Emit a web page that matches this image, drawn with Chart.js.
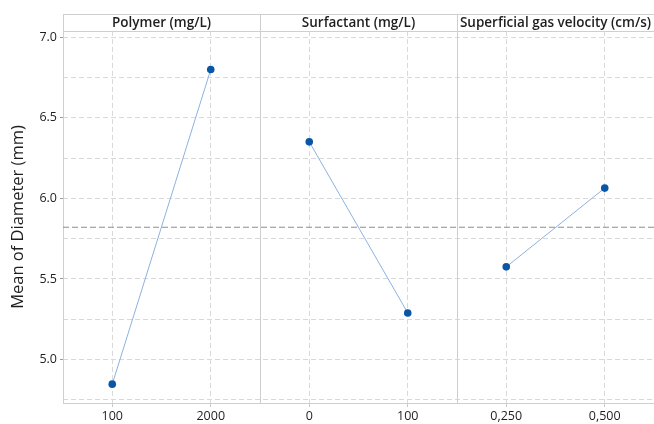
<!DOCTYPE html>
<html>
<head>
<meta charset="utf-8">
<script src="https://cdn.jsdelivr.net/npm/chart.js@4/dist/chart.umd.min.js"></script>
<style>
  html, body { margin: 0; padding: 0; background: #ffffff; overflow: hidden; }
  canvas { display: block; }
</style>
</head>
<body>
<canvas id="mainEffects" width="654" height="424"></canvas>
<script>
const factorNames = ["Polymer (mg/L)", "Surfactant (mg/L)", "Superficial gas velocity (cm/s)"];
const levelLabels = [["100", "2000"], ["0", "100"], ["0,250", "0,500"]];
const levelMeans = [[4.847, 6.800], [6.351, 5.289], [5.575, 6.064]];
const yTickValues = [4.75, 5.0, 5.25, 5.5, 5.75, 6.0, 6.25, 6.5, 6.75, 7.0];

const FONT = "\"Open Sans\", \"Noto Sans\", Arial, sans-serif";
const GRID_COLOR = "#d9d9d9";
const FRAME_COLOR = "#cfcfcf";
const POINT_COLOR = "#0a56a6";
const LINE_COLOR = "#8cb2e0";

Chart.defaults.font.family = FONT;

// each factor sits in its own panel of width 1 on the x scale
const levelPos = (f, l) => f + 0.25 + 0.5 * l;
const xTickPositions = [];
const xTickText = {};
levelLabels.forEach((labels, f) => labels.forEach((lab, l) => {
  xTickPositions.push(levelPos(f, l));
  xTickText[levelPos(f, l).toFixed(2)] = lab;
}));

const allMeans = levelMeans.flat();
const grandMean = allMeans.reduce((a, b) => a + b, 0) / allMeans.length;

const factorDatasets = levelMeans.map((means, f) => ({
  label: factorNames[f],
  data: means.map((v, l) => ({ x: levelPos(f, l), y: v })),
  showLine: true,
  borderColor: LINE_COLOR,
  borderWidth: 1,
  pointRadius: 3.8,
  pointBackgroundColor: POINT_COLOR,
  pointBorderColor: POINT_COLOR,
  pointBorderWidth: 0,
  order: 1
}));

const meanDataset = {
  label: "Mean",
  data: [{ x: 0, y: grandMean }, { x: factorNames.length, y: grandMean }],
  showLine: true,
  borderColor: "#8f8f8f",
  borderWidth: 1.2,
  borderDash: [6, 3],
  pointRadius: 0,
  order: 2
};

const panelPlugin = {
  id: "panels",
  beforeDatasetsDraw(chart) {
    const { ctx, chartArea, scales } = chart;
    const top = chartArea.top - 17;
    ctx.save();
    ctx.strokeStyle = FRAME_COLOR;
    ctx.lineWidth = 1;
    ctx.beginPath();
    // header strip
    ctx.moveTo(chartArea.left, top + 0.5);
    ctx.lineTo(chartArea.right, top + 0.5);
    ctx.moveTo(chartArea.left, chartArea.top + 0.5);
    ctx.lineTo(chartArea.right, chartArea.top + 0.5);
    ctx.moveTo(chartArea.left + 0.5, top);
    ctx.lineTo(chartArea.left + 0.5, chartArea.bottom);
    for (let f = 1; f < factorNames.length; f++) {
      const x = Math.round(scales.x.getPixelForValue(f)) + 0.5;
      ctx.moveTo(x, top);
      ctx.lineTo(x, chartArea.bottom);
    }
    ctx.stroke();
    ctx.fillStyle = "#1e1e1e";
    ctx.font = "600 13.5px " + FONT;
    ctx.textAlign = "center";
    ctx.textBaseline = "middle";
    factorNames.forEach((name, f) => {
      const cx = scales.x.getPixelForValue(f + 0.5);
      ctx.fillText(name, cx, top + 9);
    });
    ctx.restore();
  }
};

new Chart(document.getElementById("mainEffects"), {
  type: "scatter",
  data: { datasets: [...factorDatasets, meanDataset] },
  options: {
    responsive: false,
    animation: false,
    devicePixelRatio: 1,
    layout: { autoPadding: false, padding: { top: 31, right: 0, left: 0, bottom: 0 } },
    plugins: {
      legend: { display: false },
      tooltip: { enabled: false }
    },
    scales: {
      x: {
        type: "linear",
        min: 0,
        max: factorNames.length,
        afterBuildTicks: (scale) => {
          scale.ticks = xTickPositions.map((v) => ({ value: v }));
        },
        afterFit: (scale) => {
          scale.height = 21;
          scale.paddingLeft = 0;
          scale.paddingRight = 0;
        },
        ticks: {
          autoSkip: false,
          maxRotation: 0,
          padding: 2,
          color: "#1e1e1e",
          font: { size: 12.5 },
          callback: (v) => xTickText[Number(v).toFixed(2)] || ""
        },
        grid: {
          color: GRID_COLOR,
          lineWidth: 1,
          tickLength: 4,
          tickColor: "#c8c8c8"
        },
        border: { display: true, color: FRAME_COLOR, width: 1, dash: [5, 3] }
      },
      y: {
        min: 4.73,
        max: 7.039,
        afterBuildTicks: (scale) => {
          scale.ticks = yTickValues.map((v) => ({ value: v }));
        },
        afterFit: (scale) => { scale.width = 63; },
        ticks: {
          autoSkip: false,
          padding: 3,
          color: "#1e1e1e",
          font: { size: 12.5 },
          callback: (v) => (Math.abs(v * 2 - Math.round(v * 2)) < 1e-6 ? Number(v).toFixed(1) : "")
        },
        grid: {
          color: GRID_COLOR,
          lineWidth: 1,
          tickLength: 3,
          tickColor: (ctx) => {
            const v = ctx.tick ? ctx.tick.value : 0;
            return Math.abs(v * 2 - Math.round(v * 2)) < 1e-6 ? "#9a9a9a" : "rgba(0,0,0,0)";
          }
        },
        border: { display: false, dash: [5, 3] },
        title: {
          display: true,
          text: "Mean of Diameter (mm)",
          color: "#1e1e1e",
          font: { size: 16.5 },
          padding: { top: 8, bottom: 0 }
        }
      }
    }
  },
  plugins: [panelPlugin]
});
</script>
</body>
</html>
